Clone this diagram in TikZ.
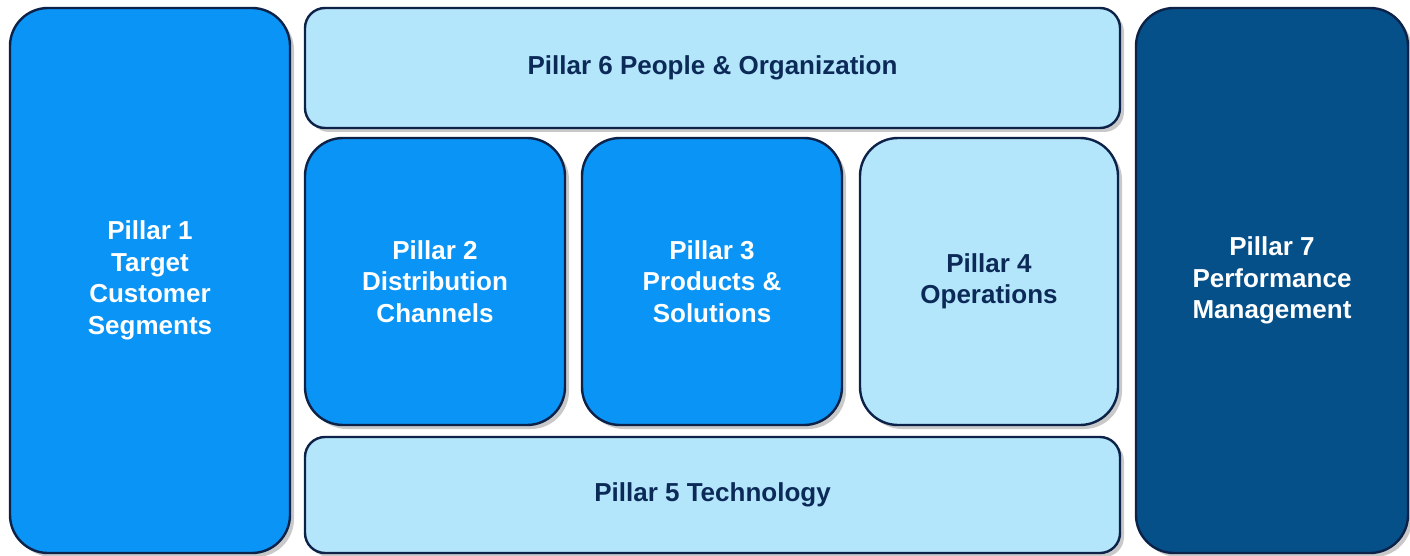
\documentclass[tikz,border=0pt]{standalone}
\usepackage{fontspec}
\setmainfont{Liberation Sans}
\usetikzlibrary{shadows}

\definecolor{pillarblue}{RGB}{10,148,245}
\definecolor{pillarlight}{RGB}{180,230,251}
\definecolor{pillardark}{RGB}{6,80,137}
\definecolor{pillaredge}{RGB}{12,34,72}
\definecolor{pillartext}{RGB}{12,42,88}

\begin{document}
\begin{tikzpicture}[x=1pt,y=-1pt,
    pillar/.style={draw=pillaredge,line width=2.4pt,rounded corners=38pt,
      align=center,font=\bfseries\fontsize{26}{31.5}\selectfont,inner sep=0pt,
      drop shadow={shadow xshift=4pt,shadow yshift=-4pt,fill=black!30,opacity=0.7}},
    strong/.style={pillar,fill=pillarblue,text=white},
    soft/.style={pillar,fill=pillarlight,text=pillartext},
    deep/.style={pillar,fill=pillardark,text=white},
    band/.style={soft,rounded corners=20pt}]
  \useasboundingbox (0,0) rectangle (1410,556);
  % outer columns
  \node[strong,minimum width=280pt,minimum height=545pt] (P1) at (150,280.5)
    {Pillar 1\\Target\\Customer\\Segments};
  \node[deep,minimum width=272pt,minimum height=545pt] (P7) at (1272,280.5)
    {Pillar 7\\Performance\\Management};
  % top and bottom bands
  \node[band,minimum width=815pt,minimum height=120pt] (P6) at (712.5,68)
    {Pillar 6 People \& Organization};
  \node[band,minimum width=815pt,minimum height=116pt] (P5) at (712.5,495)
    {Pillar 5 Technology};
  % middle row
  \node[strong,minimum width=260pt,minimum height=287pt] (P2) at (435,281.5)
    {Pillar 2\\Distribution\\Channels};
  \node[strong,minimum width=260pt,minimum height=287pt] (P3) at (712,281.5)
    {Pillar 3\\Products \&\\Solutions};
  \node[soft,minimum width=258pt,minimum height=287pt] (P4) at (989,281.5)
    {Pillar 4\\Operations};
\end{tikzpicture}
\end{document}
